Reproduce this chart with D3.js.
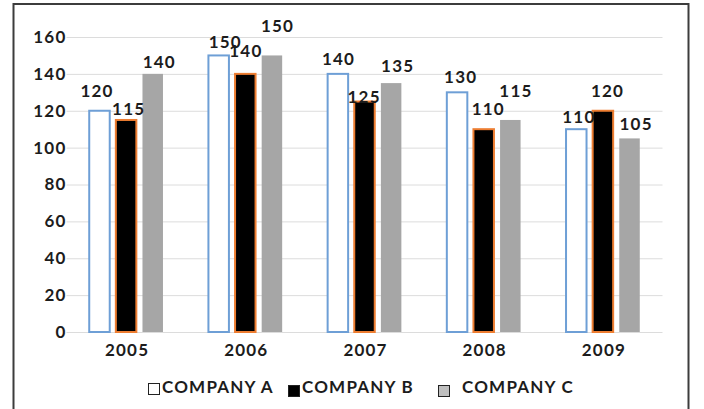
<!DOCTYPE html>
<html>
<head>
<meta charset="utf-8">
<script src="https://cdn.jsdelivr.net/npm/d3@7"></script>
<style>
  body { margin: 0; background: #fff; }
  text { font-family: Lato, "Open Sans", sans-serif; font-weight: bold; fill: #1c1c1c; letter-spacing: 1.2px; }
</style>
</head>
<body>
<svg width="704" height="409"></svg>
<script>
// Chart data:
var years = ["2005", "2006", "2007", "2008", "2009"];
var companies = ["COMPANY A", "COMPANY B", "COMPANY C"];
var companyA = [120, 150, 140, 130, 110];
var companyB = [115, 140, 125, 110, 120];
var companyC = [140, 150, 135, 115, 105];
var yTicks = [0, 20, 40, 60, 80, 100, 120, 140, 160];

var series = [companyA, companyB, companyC];

// Label nudges (px) so the value labels sit like the original's:
var labelDx = [[-3, 6, 0, 3, 2], [2, 0, -1, 4, 4], [6, 5, 6, 5, 6]];
var labelDy = [[-14, -7, -9, -9, -6], [-5, -17, 1, -14, -14], [-6, -23, -11, -23, -8]];

var svg = d3.select("svg");

// Looks of each company's bars:
var fills = ["#ffffff", "#000000", "#a6a6a6"];
var strokes = ["#6e9fd6", "#ed7d31", "none"];

// Outer frame:
svg.append("rect")
	.attr("x", 13.5)
	.attr("y", 4)
	.attr("width", 675)
	.attr("height", 430)
	.attr("fill", "none")
	.attr("stroke", "#3c3c3c")
	.attr("stroke-width", 2);

// Scales:
var x = d3.scaleBand()
	.domain(years)
	.range([66.5, 662.5])
	.paddingInner(0.33)
	.paddingOuter(0.165);

var xSub = d3.scaleBand()
	.domain(companies)
	.range([0, x.bandwidth()])
	.paddingInner(0.23)
	.paddingOuter(0.115);

var y = d3.scaleLinear()
	.domain([0, 160])
	.range([332, 37]);

// Gridlines + y labels:
var yAxis = d3.axisLeft(y)
	.tickValues(yTicks)
	.tickSize(-(662.5 - 66.5))
	.tickPadding(0);

var gy = svg.append("g")
	.attr("transform", "translate(66.5,0)")
	.call(yAxis);
gy.select(".domain").remove();
gy.selectAll(".tick line")
	.attr("stroke", "#dcdcdc")
	.attr("stroke-width", 1);
gy.selectAll(".tick text")
	.attr("x", 0)
	.attr("font-size", 17)
	.attr("font-family", null)
	.attr("fill", "#1c1c1c");

// Bars:
var groups = svg.append("g")
	.selectAll("g")
	.data(years)
	.enter()
	.append("g")
	.attr("transform", function (d) { return "translate(" + x(d) + ",0)"; });

groups.selectAll("rect")
	.data(function (d, i) {
		return companies.map(function (c, j) { return {company: c, idx: j, value: series[j][i]}; });
	})
	.enter()
	.append("rect")
	.attr("x", function (d) { return xSub(d.company); })
	.attr("y", function (d) { return y(d.value); })
	.attr("width", xSub.bandwidth())
	.attr("height", function (d) { return y(0) - y(d.value); })
	.attr("fill", function (d) { return fills[d.idx]; })
	.attr("stroke", function (d) { return strokes[d.idx]; })
	.attr("stroke-width", 2);

// Value labels:
groups.selectAll("text")
	.data(function (d, i) {
		return companies.map(function (c, j) {
			return {company: c, value: series[j][i], dx: labelDx[j][i], dy: labelDy[j][i]};
		});
	})
	.enter()
	.append("text")
	.attr("x", function (d) { return xSub(d.company) + xSub.bandwidth() / 2 + 0.6 + d.dx; })
	.attr("y", function (d) { return y(d.value) + d.dy; })
	.attr("text-anchor", "middle")
	.attr("font-size", 17)
	.text(function (d) { return d.value; });

// Year labels:
svg.append("g")
	.selectAll("text")
	.data(years)
	.enter()
	.append("text")
	.attr("x", function (d) { return x(d) + x.bandwidth() / 2 + 1; })
	.attr("y", 356)
	.attr("text-anchor", "middle")
	.attr("font-size", 17)
	.text(function (d) { return d; });

// Legend:
var legendX = [148, 288, 438];
var legend = svg.append("g")
	.selectAll("g")
	.data(companies)
	.enter()
	.append("g")
	.attr("transform", function (d, i) { return "translate(" + legendX[i] + "," + (i == 0 ? 383 : 385) + ")"; });

legend.append("rect")
	.attr("x", 0.5)
	.attr("y", 0.5)
	.attr("width", 11)
	.attr("height", 11)
	.attr("fill", function (d, i) { return i == 2 ? "#bfbfbf" : fills[i]; })
	.attr("stroke", "#222")
	.attr("stroke-width", 1);

legend.append("text")
	.attr("x", function (d, i) { return i == 2 ? 24 : 14; })
	.attr("y", function (d, i) { return i == 0 ? 10 : 8; })
	.attr("font-size", 17)
	.text(function (d) { return d; });
</script>
</body>
</html>
